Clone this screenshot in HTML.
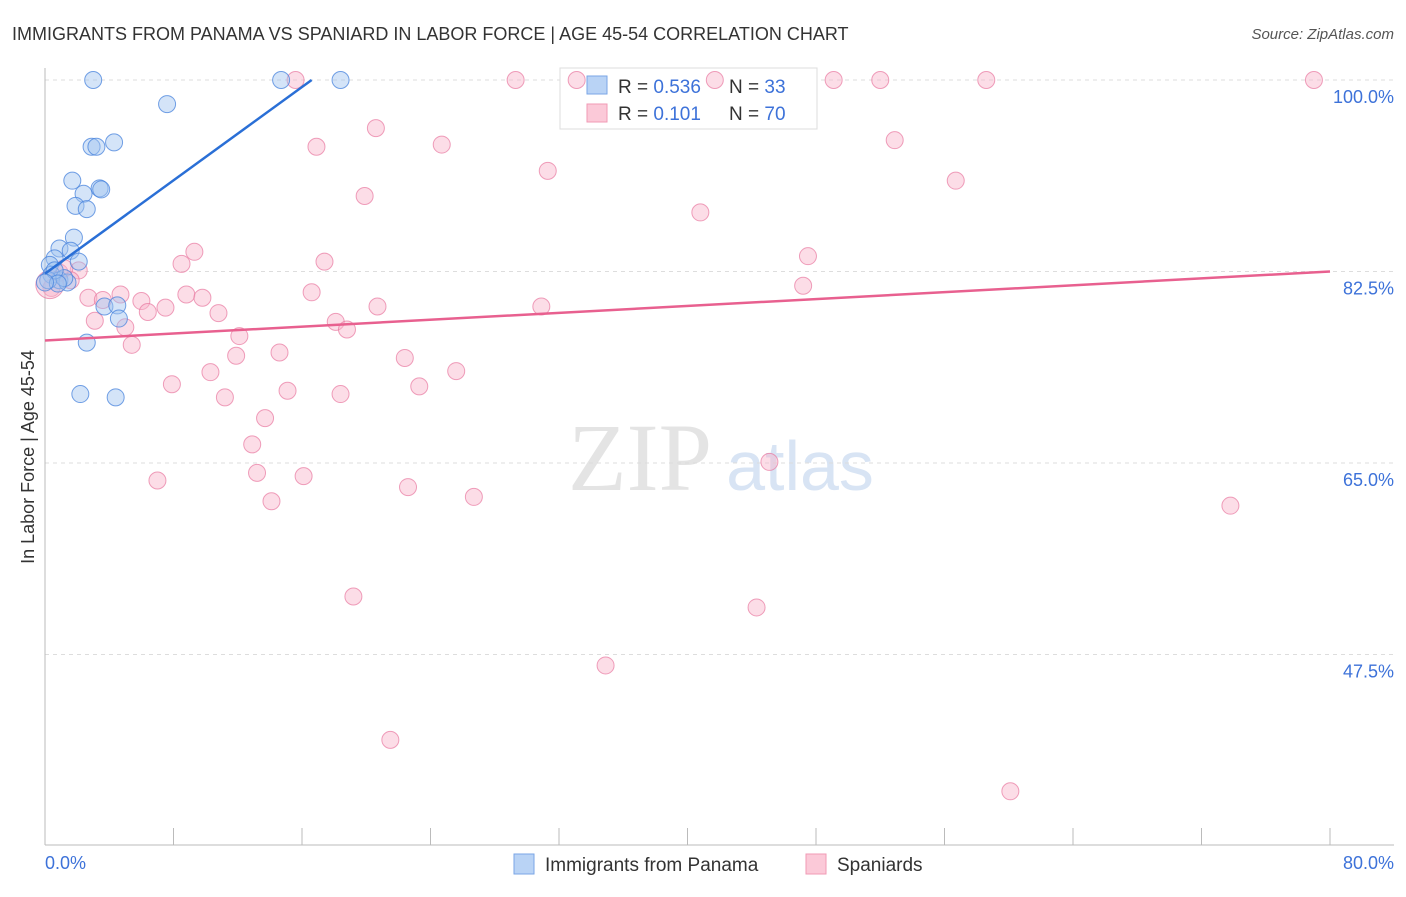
<!DOCTYPE html>
<html><head><meta charset="utf-8"><style>
body{margin:0;background:#fff;font-family:"Liberation Sans",sans-serif;}
</style></head><body>
<svg width="1406" height="892" xmlns="http://www.w3.org/2000/svg">
<text x="12" y="40" font-size="18" fill="#333">IMMIGRANTS FROM PANAMA VS SPANIARD IN LABOR FORCE | AGE 45-54 CORRELATION CHART</text>
<text x="1394" y="39" font-size="15" fill="#555" text-anchor="end" font-style="italic">Source: ZipAtlas.com</text>
<text x="640" y="490" font-size="96" fill="#e4e4e4" font-family="Liberation Serif,serif" text-anchor="middle">ZIP</text>
<text x="800" y="490" font-size="70" fill="#d8e4f4" text-anchor="middle">atlas</text>
<g id="grid"></g>
<g id="axes"></g>
<g>
<rect x="560" y="68" width="257" height="61" fill="#fff" stroke="#ddd"/>
<rect x="587" y="76" width="20" height="18" fill="#b9d3f5" stroke="#7aa6e6"/>
<rect x="587" y="104" width="20" height="18" fill="#fbc9d8" stroke="#f09ab5"/>
<text x="618" y="93" font-size="19" fill="#333">R = <tspan fill="#3d72d9">0.536</tspan></text>
<text x="729" y="93" font-size="19" fill="#333">N = <tspan fill="#3d72d9">33</tspan></text>
<text x="618" y="120" font-size="19" fill="#333">R = <tspan fill="#3d72d9"> 0.101</tspan></text>
<text x="729" y="120" font-size="19" fill="#333">N = <tspan fill="#3d72d9">70</tspan></text>
</g>
<g id="pts"></g>
<g id="trend"></g>
<text transform="translate(34,457) rotate(-90)" font-size="18" fill="#333" text-anchor="middle">In Labor Force | Age 45-54</text>
<text x="45" y="869" font-size="18" fill="#3d72d9">0.0%</text>
<text x="1394" y="869" font-size="18" fill="#3d72d9" text-anchor="end">80.0%</text>
<g>
<rect x="514" y="854" width="20" height="20" fill="#b9d3f5" stroke="#7aa6e6"/>
<text x="545" y="871" font-size="19" fill="#333">Immigrants from Panama</text>
<rect x="806" y="854" width="20" height="20" fill="#fbc9d8" stroke="#f09ab5"/>
<text x="837" y="871" font-size="19" fill="#333">Spaniards</text>
</g>
</svg>
<script>
const yTicks=[100,82.5,65,47.5];
const xTicks=[0,8,16,24,32,40,48,56,64,72,80];
const blueX=[3.0,14.7,18.4,7.6,2.9,3.2,4.3,1.7,3.4,3.5,2.4,1.9,2.6,1.8,0.9,1.6,0.6,2.1,0.3,0.4,0.9,1.4,0.2,1.2,3.7,4.5,4.6,2.6,2.2,4.4,0.6,0.8,0.0];
const blueY=[100,100,100,97.8,93.9,93.9,94.3,90.8,90.1,90.0,89.6,88.5,88.2,85.6,84.6,84.4,83.7,83.4,83.1,82.2,81.7,81.5,81.7,81.9,79.3,79.4,78.2,76.0,71.3,71.0,82.6,81.4,81.5];
const pinkX=[15.6,29.3,33.1,41.7,49.1,52.0,58.6,79.0,20.6,16.9,24.7,52.9,31.3,56.7,19.9,40.8,9.3,8.5,17.4,47.5,2.1,1.6,0.4,16.6,8.8,9.8,2.7,3.6,4.7,6.0,7.5,6.4,10.8,20.7,30.9,47.2,3.1,5.0,18.1,18.8,12.1,5.4,14.6,11.9,22.4,25.6,10.3,7.9,23.3,15.1,18.4,11.2,13.7,12.9,45.1,13.2,16.1,7.0,22.6,26.7,14.1,73.8,19.2,44.3,34.9,21.5,60.1,0.3,0.9,1.2];
const pinkY=[100,100,100,100,100,100,100,100,95.6,93.9,94.1,94.5,91.7,90.8,89.4,87.9,84.3,83.2,83.4,83.9,82.6,81.7,81.0,80.6,80.4,80.1,80.1,79.9,80.4,79.8,79.2,78.8,78.7,79.3,79.3,81.2,78.0,77.4,77.9,77.2,76.6,75.8,75.1,74.8,74.6,73.4,73.3,72.2,72.0,71.6,71.3,71.0,69.1,66.7,65.1,64.1,63.8,63.4,62.8,61.9,61.5,61.1,52.8,51.8,46.5,39.7,35.0,81.3,82.4,82.8];
const blueTrend=[[0,82.3],[16.6,100]];
const pinkTrend=[[0,76.2],[80,82.5]];
const NS='http://www.w3.org/2000/svg';
const X=v=>45+v/80*1285;
const Y=v=>80+(100-v)/17.5*191.5;
function mk(t,a,p){const e=document.createElementNS(NS,t);for(const k in a)e.setAttribute(k,a[k]);document.getElementById(p).appendChild(e);return e;}
yTicks.forEach(t=>{
 const l=mk('line',{x1:45,x2:1394,y1:Y(t),y2:Y(t),stroke:'#ddd','stroke-dasharray':'4,4'},'grid');
 
 
 const tx=mk('text',{x:1394,y:Y(t)+23,'font-size':18,fill:'#3d72d9','text-anchor':'end'},'grid');
 tx.textContent=t.toFixed(1)+'%';
 
 
});
const ax=mk('line',{x1:45,x2:45,y1:68,y2:845,stroke:'#bbb'},'axes');


const bx=mk('line',{x1:45,x2:1394,y1:845,y2:845,stroke:'#bbb'},'axes');


xTicks.forEach(t=>{
 const l=mk('line',{x1:X(t),x2:X(t),y1:828,y2:845,stroke:'#bbb'},'axes');
 
 
});
pinkX.forEach((x,i)=>{
 const c=mk('circle',{cx:X(x),cy:Y(pinkY[i]),r:i==67?14:8.5,fill:'rgba(248,180,202,0.45)',stroke:'rgba(232,120,160,0.7)','stroke-width':1},'pts');
 
 
});
blueX.forEach((x,i)=>{
 const c=mk('circle',{cx:X(x),cy:Y(blueY[i]),r:8.5,fill:'rgba(160,195,240,0.45)',stroke:'rgba(70,130,220,0.75)','stroke-width':1},'pts');
 
 
});
const bt=mk('line',{x1:X(blueTrend[0][0]),y1:Y(blueTrend[0][1]),x2:X(blueTrend[1][0]),y2:Y(blueTrend[1][1]),stroke:'#2a6fd6','stroke-width':2.5},'trend');


const pt=mk('line',{x1:X(pinkTrend[0][0]),y1:Y(pinkTrend[0][1]),x2:X(pinkTrend[1][0]),y2:Y(pinkTrend[1][1]),stroke:'#e8608f','stroke-width':2.5},'trend');


</script>
</body></html>
